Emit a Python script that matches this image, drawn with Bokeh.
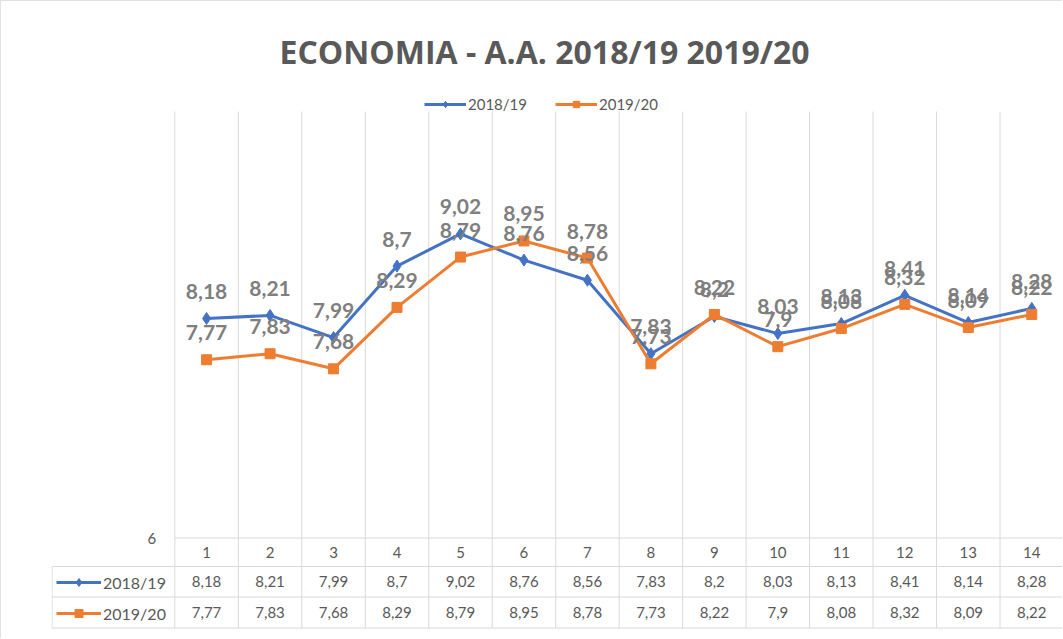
from bokeh.plotting import figure
from bokeh.models import (ColumnDataSource, Legend, LegendItem, Range1d)
from bokeh.core.properties import value
from bokeh.embed import file_html
from bokeh.resources import INLINE

# ---------------- data ----------------
categories = list(range(1, 15))
series_names = ["2018/19", "2019/20"]
s2018 = [8.18, 8.21, 7.99, 8.70, 9.02, 8.76, 8.56, 7.83, 8.20, 8.03, 8.13, 8.41, 8.14, 8.28]
s2019 = [7.77, 7.83, 7.68, 8.29, 8.79, 8.95, 8.78, 7.73, 8.22, 7.90, 8.08, 8.32, 8.09, 8.22]
y_axis_min = 6
title_text = "ECONOMIA - A.A. 2018/19 2019/20"

BLUE = "#4472C4"
ORANGE = "#ED7D31"
GRID = "#d9d9d9"
TXT = "#595959"
LBL = "#7f7f7f"
FONT = "Lato"


def fmt(v):
    s = f"{v:.2f}".rstrip("0").rstrip(".")
    return s.replace(".", ",")


cat_labels = [str(c) for c in categories]
l2018 = [fmt(v) for v in s2018]
l2019 = [fmt(v) for v in s2019]

# ---------------- layout constants (data units) ----------------
X_START, X_END = -1.443, 14.5
Y_START, Y_END = 5.0914, 10.434
PLOT_TOP = 10.235            # top of the plot area (value axis max)
TABLE_LEFT = -1.435
ROW_LINES = [y_axis_min, 5.717, 5.414, 5.106]
CAT_ROW_Y = 5.856
VAL_ROW_Y = [5.568, 5.262]

p = figure(width=1062, height=638, output_backend="svg", toolbar_location=None,
           x_range=Range1d(X_START, X_END), y_range=Range1d(Y_START, Y_END),
           x_axis_location=None, y_axis_location=None,
           min_border_left=50, min_border_right=0, min_border_top=90, min_border_bottom=10,
           background_fill_color="white", border_fill_color="white")
p.outline_line_color = None
for g in p.grid:
    g.visible = False
p.styles = {"border-left": "1px solid #e2e2e2", "border-top": "1px solid #e2e2e2"}

# vertical category grid lines (span the plot area and data table)
bounds = [c - 0.5 for c in categories] + [categories[-1] + 0.5]
p.segment(x0=bounds, x1=bounds, y0=[ROW_LINES[3]] * len(bounds), y1=[PLOT_TOP] * len(bounds),
          line_color=GRID, line_width=1)

# table horizontal lines
p.segment(x0=[categories[0] - 0.5] + [TABLE_LEFT] * 3,
          x1=[categories[-1] + 0.5] * 4,
          y0=ROW_LINES, y1=ROW_LINES, line_color=GRID, line_width=1)
p.segment(x0=[TABLE_LEFT], x1=[TABLE_LEFT], y0=[ROW_LINES[1]], y1=[ROW_LINES[3]],
          line_color=GRID, line_width=1)

# value axis min label
p.text(x=[categories[0] - 0.862], y=[y_axis_min], text=[str(y_axis_min)],
       text_align="center", text_baseline="middle", text_font=value(FONT),
       text_font_size="15px", text_color=TXT)

# series
src = ColumnDataSource(dict(x=categories, a=s2018, b=s2019, la=l2018, lb=l2019))
r1l = p.line("x", "a", source=src, line_color=BLUE, line_width=3)
r1m = p.scatter("x", "a", source=src, marker="diamond", size=12, fill_color=BLUE, line_color=BLUE)
r2l = p.line("x", "b", source=src, line_color=ORANGE, line_width=3)
r2m = p.scatter("x", "b", source=src, marker="square", size=10, fill_color=ORANGE, line_color=ORANGE)

# data labels
for col, ycol in (("la", "a"), ("lb", "b")):
    p.text(x="x", y=ycol, text=col, source=src, y_offset=-27,
           text_align="center", text_baseline="middle", text_font=value(FONT),
           text_font_size="21px", text_font_style="bold", text_color=LBL)

# data table
p.text(x=categories, y=[CAT_ROW_Y] * len(categories), text=cat_labels,
       text_align="center", text_baseline="middle", text_font=value(FONT),
       text_font_size="15px", text_color=TXT)
for yy, labels in zip(VAL_ROW_Y, (l2018, l2019)):
    p.text(x=categories, y=[yy] * len(categories), text=labels,
           text_align="center", text_baseline="middle", text_font=value(FONT),
           text_font_size="15px", text_color=TXT)

# legend keys inside the data table
leg_tab = Legend(items=[LegendItem(label=series_names[0], renderers=[r1l, r1m]),
                        LegendItem(label=series_names[1], renderers=[r2l, r2m])],
                 orientation="vertical", location=(5, 6),
                 glyph_width=45, glyph_height=20, label_height=20, spacing=11,
                 padding=0, margin=0, label_standoff=2,
                 border_line_color=None, background_fill_alpha=0,
                 label_text_font=FONT, label_text_font_size="16px", label_text_color=TXT)
p.add_layout(leg_tab, "center")

# top legend (just above the plot area)
leg_top = Legend(items=[LegendItem(label=series_names[0], renderers=[r1l, r1m]),
                        LegendItem(label=series_names[1], renderers=[r2l, r2m])],
                 orientation="horizontal", location=(373, 516),
                 glyph_width=42, glyph_height=16, label_height=16, spacing=28,
                 padding=0, margin=0, label_standoff=2,
                 border_line_color=None, background_fill_alpha=0,
                 label_text_font=FONT, label_text_font_size="15px", label_text_color=TXT)
p.add_layout(leg_top, "center")

p.title.text = title_text
p.title.align = "left"
p.title.offset = 228
p.title.text_font = "Open Sans"
p.title.text_font_size = "32px"
p.title.text_font_style = "bold"
p.title.text_color = TXT
p.title.standoff = 38

open("out.html", "w").write(file_html(p, INLINE))
